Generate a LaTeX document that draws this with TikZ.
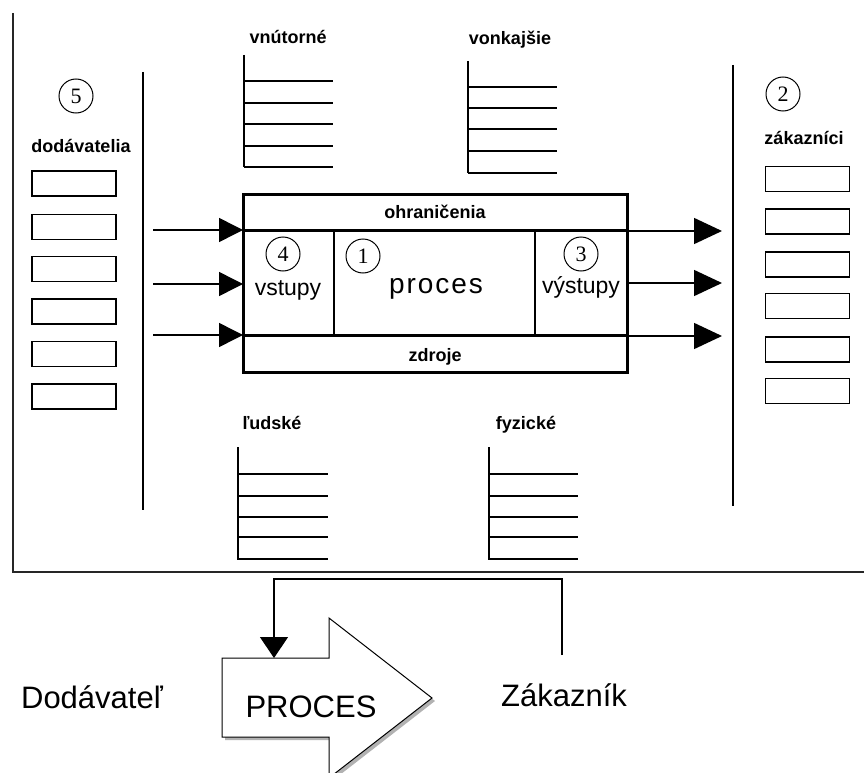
\documentclass[tikz,border=0pt]{standalone}
\usepackage{fontspec}
\setmainfont{Liberation Sans}
\newfontfamily\digitfont{Liberation Serif}
\usetikzlibrary{arrows.meta}
\begin{document}
\begin{tikzpicture}[x=1pt,y=-1pt,
  lbl/.style={font=\fontsize{18}{18}\selectfont\bfseries, inner sep=0pt, text height=0.72em, text depth=0.2em},
  mid/.style={font=\fontsize{23}{23}\selectfont, inner sep=0pt, text height=0.72em, text depth=0.2em},
  num/.style={circle, draw, line width=1pt, minimum size=34pt, inner sep=0pt,
    font=\digitfont\fontsize{22}{22}\selectfont},
  sbox/.style={draw, line width=1.8pt, minimum width=84pt, minimum height=25pt, inner sep=0pt},
  big/.style={font=\fontsize{31}{31}\selectfont, inner sep=0pt, text height=0.72em, text depth=0.2em},
  sepline/.style={line width=1.5pt},
  lst/.style={line width=1.5pt},
  inarr/.style={line width=1.5pt, -{Triangle[length=24pt,width=24pt]}},
  outarr/.style={line width=1.5pt, -{Triangle[length=28pt,width=26pt]}},
]
\useasboundingbox (0,0) rectangle (864,773);
\clip (0,0) rectangle (864,773);

% outer frame
\draw[line width=1.6pt, black!85] (13,13) -- (13,572) -- (864,572);

% dividers
\draw[sepline] (143,72) -- (143,510);
\draw[sepline] (733,65) -- (733,506);

% suppliers
\node[num] (c5) at (76,96) {5};
\node[lbl] (dod) at (81,150) {dodávatelia};
\foreach \i/\y in {1/183.5,2/227,3/269,4/311.5,5/354,6/396.5}
  \node[sbox] (s\i) at (74,\y) {};

% customers
\node[num] (c2) at (783,94) {2};
\node[lbl] (zak) at (804,142) {zákazníci};
\foreach \i/\y in {1/179,2/221.5,3/264.5,4/306,5/349.5,6/391}
  \node[sbox] (k\i) at (807.5,\y) {};

% top lists
\node[lbl] (vnu) at (288,41) {vnútorné};
\draw[lst] (244,55) -- (244,167);
\foreach \y in {81,103,124,146,167} \draw[lst] (244,\y) -- (333,\y);
\node[lbl] (von) at (510,42) {vonkajšie};
\draw[lst] (468,61) -- (468,173);
\foreach \y in {87,108,129,151,173} \draw[lst] (468,\y) -- (557,\y);

% bottom lists
\node[lbl] (lud) at (272,427) {ľudské};
\draw[lst] (238,447) -- (238,560);
\foreach \y in {474,496,517,537,559} \draw[lst] (238,\y) -- (328,\y);
\node[lbl] (fyz) at (526,427) {fyzické};
\draw[lst] (489,447) -- (489,560);
\foreach \y in {474,496,517,537,559} \draw[lst] (489,\y) -- (578,\y);

% central box
\node[draw, line width=3pt, minimum width=384pt, minimum height=178pt, inner sep=0pt] (box) at (435,283) {};
\draw[line width=3pt] (243,230) -- (627,230);
\draw[line width=3pt] (243,335) -- (627,335);
\draw[line width=1.2pt] (334,230) -- (334,335);
\draw[line width=1.2pt] (535,230) -- (535,335);
\node[lbl] (ohr) at (435,216) {ohraničenia};
\node[lbl] (zdr) at (435,359) {zdroje};
\node[font=\fontsize{28}{28}\selectfont\addfontfeatures{LetterSpace=7}, inner sep=0pt, text height=0.55em, text depth=0.2em] (proc) at (436,292) {proces};
\node[mid] (vst) at (288,293) {vstupy};
\node[mid] (vys) at (581,291) {výstupy};
\node[num] (c4) at (283,254) {4};
\node[num] (c1) at (363,256) {1};
\node[num] (c3) at (581,254) {3};

% input arrows
\foreach \y [count=\i] in {230,284,335} {
  \coordinate (ia\i) at (153,\y);
  \coordinate (ib\i) at (243,\y);
  \draw[inarr] (ia\i) -- (ib\i);
}
% output arrows
\foreach \y [count=\i] in {231,283,336} {
  \coordinate (oa\i) at (627,\y);
  \coordinate (ob\i) at (722,\y);
  \draw[outarr] (oa\i) -- (ob\i);
}

% bottom process arrow
\fill[gray!60] (225,661) -- (332,661) -- (332,621) -- (435,701) -- (332,781) -- (332,740) -- (225,740) -- cycle;
\draw[line width=1pt, fill=white] (222,658) -- (329,658) -- (329,618) -- (432,698) -- (329,778) -- (329,737) -- (222,737) -- cycle;
\node[big] (PRO) at (311,715) {PROCES};
\node[big] (Dod) at (92,706) {Dodávateľ};
\node[big] (Zak) at (564,704) {Zákazník};
\coordinate (fbstart) at (562,655);
\coordinate (fbend) at (274,658);
\draw[line width=1.3pt, -{Triangle[length=21pt,width=28pt]}] (fbstart) -- (562,579) -- (274,579) -- (fbend);
\end{tikzpicture}
\end{document}
